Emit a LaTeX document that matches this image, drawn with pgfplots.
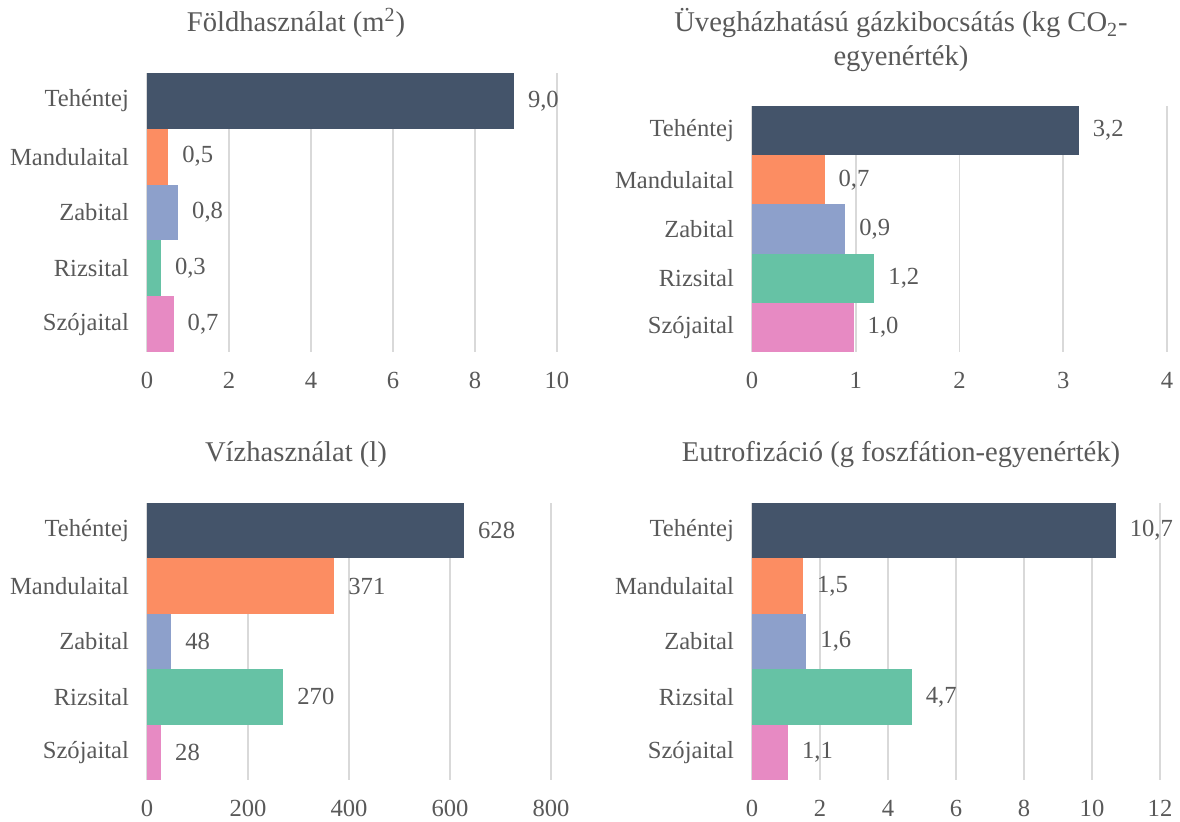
\documentclass[border=0pt]{standalone}
\usepackage{fontspec}
\setmainfont{Liberation Serif}
\usepackage{pgfplots}
\pgfplotsset{compat=1.18}
\definecolor{txt}{HTML}{595959}
\definecolor{grd}{HTML}{D9D9D9}
\definecolor{cA}{HTML}{44546A}
\definecolor{cB}{HTML}{FC8D62}
\definecolor{cC}{HTML}{8DA0CB}
\definecolor{cD}{HTML}{66C2A5}
\definecolor{cE}{HTML}{E78AC3}
\pgfplotsset{
  panel/.style={
    anchor=south west, scale only axis,
    ymin=-0.5, ymax=4.5, y dir=reverse,
    ytick={0,1,2,3,4},
    yticklabels={Tehéntej,Mandulaital,Zabital,Rizsital,Szójaital},
    axis line style={draw=none},
    major tick length=0pt,
    xmajorgrids, grid style={color=grd, line width=0.8pt},
    /pgf/number format/assume math mode=true,
    tick label style={font=\fontsize{12.3}{14}\selectfont, color=txt},
    yticklabel style={anchor=east, xshift=-5.5pt},
    xticklabel style={anchor=base, yshift=-18pt},
    every node near coord/.append style={font=\fontsize{12.3}{14}\selectfont, color=txt, anchor=west, xshift=3.5pt},
  },
  br/.style={xbar, bar width=1, bar shift=0, draw=none, fill=#1,
    nodes near coords, point meta=explicit symbolic},
}
\begin{document}
\begin{tikzpicture}
\path[use as bounding box] (0,0) rectangle (590pt,410.5pt);
\tikzset{ttl/.style={anchor=base, color=txt, font=\fontsize{14.3}{17}\selectfont}}
% Panel 1
\node[ttl] at (148pt,394.5pt) {Földhasználat (m\textsuperscript{2})};
\begin{axis}[panel, at={(73.5pt,234.5pt)}, width=205pt, height=139.5pt,
  xmin=0, xmax=10, xtick={0,2,4,6,8,10}]
\addplot[br=cA] table[x=x,y=y,meta=lab,row sep=\\] {x y lab\\ 8.95 0 9,0\\};
\addplot[br=cB] table[x=x,y=y,meta=lab,row sep=\\] {x y lab\\ 0.52 1 0,5\\};
\addplot[br=cC] table[x=x,y=y,meta=lab,row sep=\\] {x y lab\\ 0.76 2 0,8\\};
\addplot[br=cD] table[x=x,y=y,meta=lab,row sep=\\] {x y lab\\ 0.34 3 0,3\\};
\addplot[br=cE] table[x=x,y=y,meta=lab,row sep=\\] {x y lab\\ 0.65 4 0,7\\};
\end{axis}
% Panel 2
\node[ttl] at (450.5pt,394.5pt) {Üvegházhatású gázkibocsátás (kg CO\textsubscript{2}-};
\node[ttl] at (450.5pt,377.5pt) {egyenérték)};
\begin{axis}[panel, at={(376pt,234.5pt)}, width=207.5pt, height=123pt,
  xmin=0, xmax=4, xtick={0,1,2,3,4}]
\addplot[br=cA] table[x=x,y=y,meta=lab,row sep=\\] {x y lab\\ 3.15 0 3,2\\};
\addplot[br=cB] table[x=x,y=y,meta=lab,row sep=\\] {x y lab\\ 0.70 1 0,7\\};
\addplot[br=cC] table[x=x,y=y,meta=lab,row sep=\\] {x y lab\\ 0.90 2 0,9\\};
\addplot[br=cD] table[x=x,y=y,meta=lab,row sep=\\] {x y lab\\ 1.18 3 1,2\\};
\addplot[br=cE] table[x=x,y=y,meta=lab,row sep=\\] {x y lab\\ 0.98 4 1,0\\};
\end{axis}
% Panel 3
\node[ttl] at (148pt,179.5pt) {Vízhasználat (l)};
\begin{axis}[panel, at={(73.5pt,20.5pt)}, width=202pt, height=138.5pt,
  xmin=0, xmax=800, xtick={0,200,400,600,800}]
\addplot[br=cA] table[x=x,y=y,meta=lab,row sep=\\] {x y lab\\ 628 0 628\\};
\addplot[br=cB] table[x=x,y=y,meta=lab,row sep=\\] {x y lab\\ 371 1 371\\};
\addplot[br=cC] table[x=x,y=y,meta=lab,row sep=\\] {x y lab\\ 48 2 48\\};
\addplot[br=cD] table[x=x,y=y,meta=lab,row sep=\\] {x y lab\\ 270 3 270\\};
\addplot[br=cE] table[x=x,y=y,meta=lab,row sep=\\] {x y lab\\ 28 4 28\\};
\end{axis}
% Panel 4
\node[ttl] at (450.5pt,179.5pt) {Eutrofizáció (g foszfátion-egyenérték)};
\begin{axis}[panel, at={(376pt,20.5pt)}, width=204pt, height=138.5pt,
  xmin=0, xmax=12, xtick={0,2,4,6,8,10,12}]
\addplot[br=cA] table[x=x,y=y,meta=lab,row sep=\\] {x y lab\\ 10.7 0 10,7\\};
\addplot[br=cB] table[x=x,y=y,meta=lab,row sep=\\] {x y lab\\ 1.5 1 1,5\\};
\addplot[br=cC] table[x=x,y=y,meta=lab,row sep=\\] {x y lab\\ 1.6 2 1,6\\};
\addplot[br=cD] table[x=x,y=y,meta=lab,row sep=\\] {x y lab\\ 4.7 3 4,7\\};
\addplot[br=cE] table[x=x,y=y,meta=lab,row sep=\\] {x y lab\\ 1.06 4 1,1\\};
\end{axis}
\end{tikzpicture}
\end{document}
